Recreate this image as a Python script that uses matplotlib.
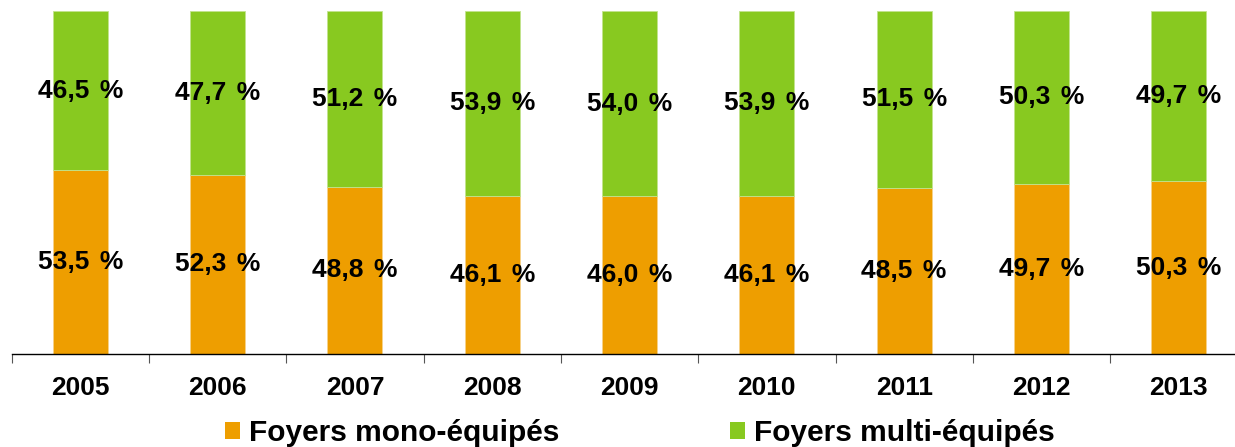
import matplotlib.pyplot as plt
import numpy as np
from matplotlib.patches import Patch

plt.rcParams['font.family'] = ['Liberation Sans', 'DejaVu Sans']

# Data
years = ['2005', '2006', '2007', '2008', '2009', '2010', '2011', '2012', '2013']
mono = [53.5, 52.3, 48.8, 46.1, 46.0, 46.1, 48.5, 49.7, 50.3]
multi = [46.5, 47.7, 51.2, 53.9, 54.0, 53.9, 51.5, 50.3, 49.7]

orange = '#EE9E00'
green = '#88C920'

fig = plt.figure(figsize=(12.35, 4.47), dpi=100)
ax = fig.add_axes([11.7 / 1235, 1 - 354 / 447, 1235.7 / 1235, (354 - 11) / 447])

x = np.arange(len(years))
ax.bar(x, mono, width=0.4, color=orange, edgecolor='#F6D28A', linewidth=0.6)
ax.bar(x, multi, width=0.4, bottom=mono, color=green, edgecolor='#C2E38E', linewidth=0.6)

# value labels, centred in each segment
for i in range(len(years)):
    ax.text(x[i], mono[i] / 2, f'{mono[i]:.1f}\u2009\u2009%'.replace('.', ','),
            ha='center', va='center', fontsize=19, fontweight='bold')
    ax.text(x[i], mono[i] + multi[i] / 2, f'{multi[i]:.1f}\u2009\u2009%'.replace('.', ','),
            ha='center', va='center', fontsize=19, fontweight='bold')

ax.set_xlim(-0.5, len(years) - 0.5)
ax.set_ylim(0, 100)

# spines
for s in ['top', 'right', 'left']:
    ax.spines[s].set_visible(False)
ax.spines['bottom'].set_linewidth(1.0)
ax.set_yticks([])

# year labels at centres, tick marks between categories
ax.set_xticks(x)
ax.set_xticklabels(years, fontsize=19, fontweight='bold')
ax.tick_params(axis='x', which='major', length=0, pad=16)
ax.set_xticks(np.arange(len(years) + 1) - 0.5, minor=True)
ax.tick_params(axis='x', which='minor', length=6.5, width=0.8, color='#555555')

# legend
handles = [Patch(facecolor=orange, label='Foyers mono-équipés'),
           Patch(facecolor=green, label='Foyers multi-équipés')]
fig.legend(handles=handles, loc='center', bbox_to_anchor=(640 / 1235, 1 - 433 / 447),
           ncol=2, frameon=False, prop={'size': 21.5, 'weight': 'bold'},
           handlelength=0.5, handleheight=0.5, handletextpad=0.3,
           columnspacing=5.7, borderpad=0, borderaxespad=0)

fig.savefig('out.png', dpi=100)
